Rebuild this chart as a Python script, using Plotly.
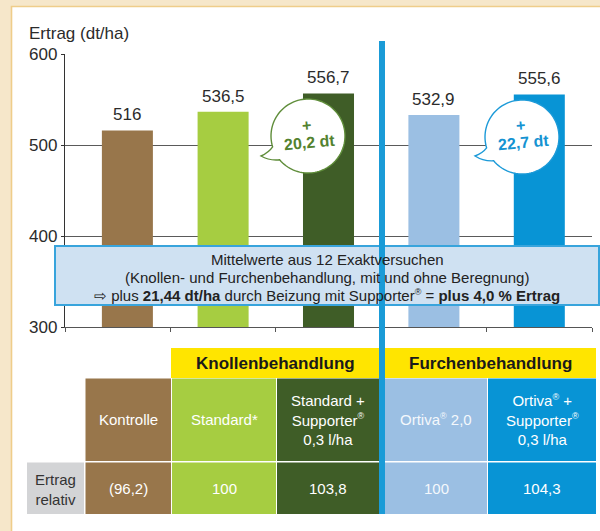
import math
import plotly.graph_objects as go

R = '<sup><span style="font-size:9px">®</span></sup>'

# ---------------- data ----------------
categories = [
    "Kontrolle",
    "Standard*",
    f"Standard +<br>Supporter{R}<br>0,3 l/ha",
    f"Ortiva{R} 2,0",
    f"Ortiva{R} +<br>Supporter{R}<br>0,3 l/ha",
]
yields = [516, 536.5, 556.7, 532.9, 555.6]
relative = ["(96,2)", "100", "103,8", "100", "104,3"]
groups = ["Knollenbehandlung", "Furchenbehandlung"]
gains = ["20,2 dt", "22,7 dt"]
y_ticks = [300, 400, 500, 600]
y_title = "Ertrag (dt/ha)"
row_label = "Ertrag<br>relativ"
note_lines = [
    "Mittelwerte aus 12 Exaktversuchen",
    "(Knollen- und Furchenbehandlung, mit und ohne Beregnung)",
    f"⇨ plus <b>21,44 dt/ha</b> durch Beizung mit Supporter{R} = <b>plus 4,0 % Ertrag</b>",
]

# ---------------- styles ----------------
bar_colors = ["#98764b", "#a6cd41", "#3f5d27", "#9bbfe3", "#0894d5"]
text_colors = ["#ffffff", "#ffffff", "#ffffff", "#f4f8fc", "#ffffff"]
FONT = "Liberation Sans, Arial, Helvetica, sans-serif"
W, H = 600, 531
PL, PR, PT, PB = 65, 592, 54, 327
BAR_W = 0.484
bar_offsets = [-0.15, -BAR_W / 2, -BAR_W / 2, -BAR_W / 2, -BAR_W / 2]
cat_px = (PR - PL) / len(categories)


def X(px):
    return (px - PL) / (PR - PL)


def Y(py):
    return (PB - py) / (PB - PT)


def fmt(v):
    return f"{v:g}".replace(".", ",")


def ann(px, py, text, size, color, **kw):
    d = dict(x=X(px), y=Y(py), xref="paper", yref="paper", text=text,
             showarrow=False, xanchor="center", yanchor="middle",
             font=dict(size=size, color=color))
    d.update(kw)
    return d


fig = go.Figure()
fig.add_trace(go.Bar(
    x=categories, y=yields, marker=dict(color=bar_colors, line=dict(width=0)),
    width=BAR_W, offset=bar_offsets, hoverinfo="skip",
))

shapes = []
annotations = []

# background frame
shapes.append(dict(type="rect", xref="paper", yref="paper", layer="below",
                   x0=X(11.5), x1=X(640), y0=Y(6.5), y1=Y(560),
                   fillcolor="white", line=dict(color="#efcd8a", width=1.6)))

# value labels over bars
for i, (c, v) in enumerate(zip(categories, yields)):
    shift = (bar_offsets[i] + BAR_W / 2) * cat_px
    annotations.append(dict(x=c, y=v, xref="x", yref="y", text=fmt(v),
                            showarrow=False, xanchor="center", yanchor="bottom",
                            yshift=4, xshift=shift,
                            font=dict(size=17, color="#2b2b2b")))

# y-axis title
annotations.append(ann(27, 33, y_title, 17, "#2b2b2b", xanchor="left"))


# speech bubbles
def bubble(cx, cy, r, tip, color):
    a_lo, a_hi = 140, 163
    pts = []
    n = 100
    for k in range(n + 1):
        a = math.radians(a_hi + (a_lo + 360 - a_hi) * k / n)
        pts.append((cx + r * math.cos(a), cy + r * math.sin(a)))
    p_lo = pts[-1]
    p_hi = pts[0]
    path = "M " + " L ".join(f"{X(x):.5f},{Y(y):.5f}" for x, y in pts)
    c1 = ((p_lo[0] + tip[0]) / 2 - 1, (p_lo[1] + tip[1]) / 2 + 3)
    c2 = ((p_hi[0] + tip[0]) / 2 + 2, (p_hi[1] + tip[1]) / 2 + 1)
    path += f" Q {X(c1[0]):.5f},{Y(c1[1]):.5f} {X(tip[0]):.5f},{Y(tip[1]):.5f}"
    path += f" Q {X(c2[0]):.5f},{Y(c2[1]):.5f} {X(p_hi[0]):.5f},{Y(p_hi[1]):.5f} Z"
    return dict(type="path", xref="paper", yref="paper", path=path, layer="above",
                fillcolor="white", line=dict(color=color, width=1.4))


bubble_specs = [((308, 136), (261, 156), "#5f8d3a", "#53822f"),
                ((522, 137), (475, 156), "#1c9ad8", "#1593d2")]
for (center, tip, lc, tc), g in zip(bubble_specs, gains):
    shapes.append(bubble(center[0], center[1], 37, tip, lc))
    annotations.append(ann(center[0] - 2, 126, "<b>+</b>", 16, tc, textangle=-5))
    annotations.append(ann(center[0] + 1, 142, f"<b>{g}</b>", 16, tc, textangle=-5))

# note box
shapes.append(dict(type="rect", xref="paper", yref="paper", layer="above",
                   x0=X(55), x1=X(599), y0=Y(246), y1=Y(305),
                   fillcolor="#cfe1f2", line=dict(color="#38a4dc", width=2)))
for line, yy in zip(note_lines, [259, 277, 295]):
    annotations.append(ann(327, yy, line, 15, "#222222"))

# table
cols = [(85.5, 171), (172, 276), (277, 379), (385, 487), (488, 596)]
row1 = (378.5, 461)
row2 = (462.5, 514)
for i, (x0, x1) in enumerate(cols):
    for (y0, y1), txt in ((row1, categories[i]), (row2, relative[i])):
        shapes.append(dict(type="rect", xref="paper", yref="paper", layer="above",
                           x0=X(x0), x1=X(x1), y0=Y(y0), y1=Y(y1),
                           fillcolor=bar_colors[i], line=dict(width=0)))
        annotations.append(ann((x0 + x1) / 2, (y0 + y1) / 2, txt, 15, text_colors[i]))

# group headers
for (x0, x1), g in zip([(171, 379), (385, 596)], groups):
    shapes.append(dict(type="rect", xref="paper", yref="paper", layer="above",
                       x0=X(x0), x1=X(x1), y0=Y(348), y1=Y(378),
                       fillcolor="#ffe500", line=dict(width=0)))
    annotations.append(ann((x0 + x1) / 2, 363.5, f"<b>{g}</b>", 17, "#1a1a1a"))

# row label
shapes.append(dict(type="rect", xref="paper", yref="paper", layer="above",
                   x0=X(27), x1=X(84), y0=Y(462.5), y1=Y(514),
                   fillcolor="#d3d4d6", line=dict(width=0)))
annotations.append(ann(55.5, 489, row_label, 15, "#333333"))

# blue separator
shapes.append(dict(type="rect", xref="paper", yref="paper", layer="above",
                   x0=X(379), x1=X(385), y0=Y(41), y1=Y(514),
                   fillcolor="#1a9bd7", line=dict(width=0)))

fig.update_layout(
    width=W, height=H,
    margin=dict(l=PL, r=W - PR, t=PT, b=H - PB, autoexpand=False),
    paper_bgcolor="#f6e7ca", plot_bgcolor="rgba(0,0,0,0)",
    font=dict(family=FONT, color="#2b2b2b"),
    showlegend=False, bargap=0.516,
    shapes=shapes, annotations=annotations,
    xaxis=dict(type="category", range=[-0.5, 4.5], showticklabels=False,
               showgrid=False, showline=True, linecolor="#555555", linewidth=1.3,
               ticks="outside", tickson="boundaries", ticklen=4, tickcolor="#555555",
               tickwidth=1.3, fixedrange=True),
    yaxis=dict(range=[300, 600], tickvals=y_ticks, showgrid=True, gridcolor="#5a5a5a",
               gridwidth=1.3, zeroline=False, showline=True, linecolor="#333333",
               linewidth=1.3, ticks="outside", ticklen=3, tickcolor="#333333",
               tickfont=dict(size=17, color="#2b2b2b"), fixedrange=True),
)

fig.write_html("out.html", config={"displayModeBar": False},
               post_script="document.body.style.margin='0px';document.body.style.overflow='hidden';")
